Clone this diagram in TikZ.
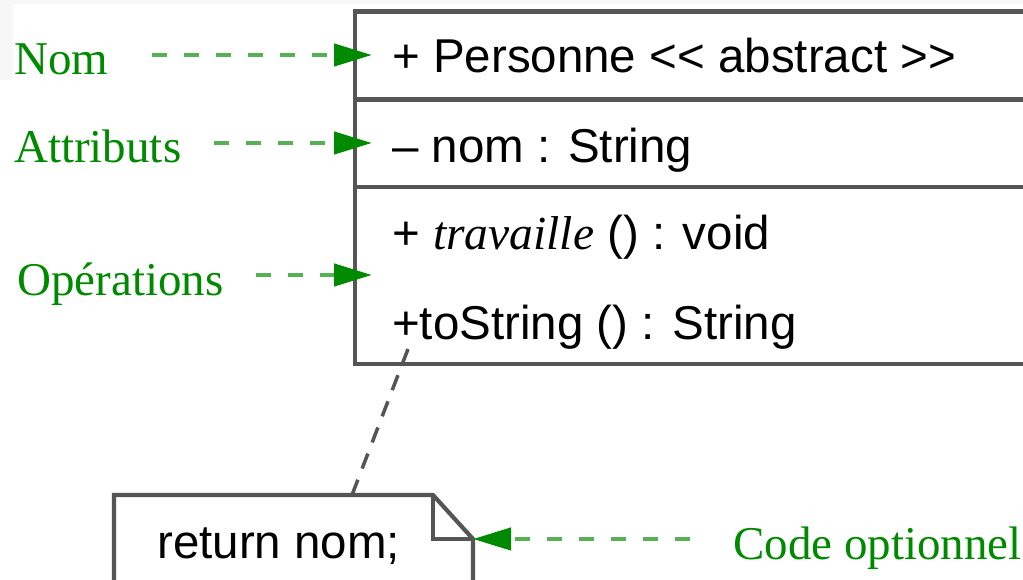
\documentclass[tikz,border=0pt]{standalone}
\usepackage{fontspec}
\setmainfont{Liberation Serif}
\newfontfamily\umlsans{Liberation Sans}
\usetikzlibrary{arrows.meta}
\definecolor{labelgreen}{RGB}{0,138,0}
\definecolor{dashgreen}{RGB}{84,178,84}
\definecolor{umlgray}{RGB}{85,85,85}
\begin{document}
\begin{tikzpicture}[x=1pt,y=-1pt,
  lbl/.style={anchor=base west, inner sep=0pt, text=labelgreen,
    font=\fontsize{47}{50}\selectfont},
  member/.style={anchor=base west, inner sep=0pt,
    font=\umlsans\fontsize{47.5}{50}\selectfont},
  callout/.style={draw=dashgreen, line width=4.5pt, dash pattern=on 15pt off 17pt,
    -{Triangle[length=38pt,width=22pt,color=labelgreen]}},
  umlline/.style={draw=umlgray, line width=4.2pt},
  notelink/.style={draw=umlgray, line width=3.5pt, dash pattern=on 16pt off 12pt}]

\useasboundingbox (0,0) rectangle (1023,580);
\clip (0,0) rectangle (1023,580);
\fill[white] (0,0) rectangle (1023,580);
\fill[black!3] (0,0) rectangle (1023,4);
\fill[black!3] (0,0) rectangle (13,80);

% class box with its three compartments (runs past the right edge)
\coordinate (clsNW) at (355,11.5);
\coordinate (clsSE) at (1045,364);
\coordinate (sepA) at (355,99.5);
\coordinate (sepB) at (355,187);
\draw[umlline] (clsNW) rectangle (clsSE);
\draw[umlline] (sepA) -- (sepA -| clsSE);
\draw[umlline] (sepB) -- (sepB -| clsSE);

% class members
\node[member] (mName) at (392,73) {+ Personne <{}< abstract >{}>};
\node[member] (mAttr) at (392,163) {– nom : String};
\node[member] (mWork) at (392,250) {+ {\rmfamily\itshape travaille} () : void};
\node[member] (mToString) at (392,339) {+toString () : String};

% note with folded corner
\coordinate (noteNW) at (114,495);
\coordinate (noteFold) at (433,495);
\coordinate (noteCorner) at (473,539);
\coordinate (noteSW) at (114,600);
\coordinate (noteSE) at (473,600);
\draw[umlline, line join=miter] (noteSW) -- (noteNW) -- (noteFold) -- (noteCorner) -- (noteSE);
\draw[umlline, line width=3.5pt] (noteFold) -- (noteFold |- noteCorner) -- (noteCorner);
\node[member] (ret) at (157,558) {return nom;};

% link from the operation to its note
\coordinate (noteLink) at (352,495);
\draw[notelink] ([xshift=16pt]mToString.south west) -- (noteLink);

% green annotations
\node[lbl] (nom) at (14,75) {Nom};
\node[lbl] (attr) at (14,163) {Attributs};
\node[lbl] (ops) at (17,295) {Opérations};
\node[lbl] (code) at (733,559) {Code optionnel};

\coordinate (nomTip) at (372,55);
\coordinate (attrTip) at (372,143);
\coordinate (opsTip) at (372,275);
\draw[callout] ([xshift=44pt]nom.east |- nomTip) -- (nomTip);
\draw[callout] ([xshift=32pt]attr.east |- attrTip) -- (attrTip);
\draw[callout] ([xshift=32pt]ops.east |- opsTip) -- (opsTip);
\draw[callout] ([xshift=-43pt]code.west |- noteCorner) -- (noteCorner);
\end{tikzpicture}
\end{document}
